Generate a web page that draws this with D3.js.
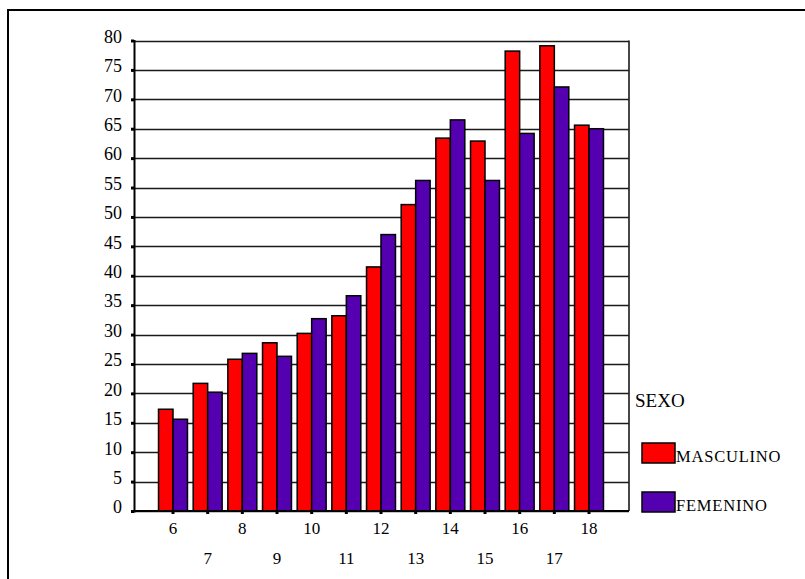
<!DOCTYPE html>
<html>
<head>
<meta charset="utf-8">
<script src="https://cdnjs.cloudflare.com/ajax/libs/d3/7.8.5/d3.min.js"></script>
<style>
  body { margin: 0; background: #fff; }
  svg text { font-family: "Liberation Serif", "DejaVu Serif", serif; fill: #000; }
</style>
</head>
<body>
<div class="graph"></div>
<script>
// edades (eje x) y medias por sexo
var edades = ["6","7","8","9","10","11","12","13","14","15","16","17","18"];
var masculino = [17.3, 21.7, 25.8, 28.6, 30.2, 33.2, 41.5, 52.1, 63.4, 62.9, 78.2, 79.1, 65.6];
var femenino  = [15.6, 20.2, 26.8, 26.3, 32.7, 36.6, 47.0, 56.2, 66.5, 56.2, 64.2, 72.1, 65.0];
var yTicks = [0, 5, 10, 15, 20, 25, 30, 35, 40, 45, 50, 55, 60, 65, 70, 75, 80];
var series = ["MASCULINO", "FEMENINO"];
var colores = ["#ff0000", "#5400b0"];

var w = 805, h = 579;
// area del grafico (no usar "top", choca con window.top)
var pLeft = 134, pRight = 629, pTop = 40.5, pBottom = 511;

var svg = d3.select("div.graph").append("svg")
  .attr("width", w).attr("height", h);

// marco exterior
svg.append("rect")
  .attr("x", 8).attr("y", 10)
  .attr("width", 900).attr("height", 900)
  .attr("fill", "none").attr("stroke", "#000").attr("stroke-width", 2);

var y = d3.scaleLinear().domain([0, 80]).range([pBottom, pTop]);
var step = (589 - 173) / 12;
var x = d3.scaleBand().domain(edades)
  .range([173 - step / 2, 589 + step / 2])
  .paddingInner(0.165).paddingOuter(0.0825);
var xs = d3.scaleBand().domain(series).range([0, x.bandwidth()]);

// lineas de cuadricula
svg.append("g").selectAll("line")
  .data(yTicks)
  .enter().append("line")
  .attr("x1", pLeft).attr("x2", pRight)
  .attr("y1", function(d) { return Math.round(y(d)) + 0.5; })
  .attr("y2", function(d) { return Math.round(y(d)) + 0.5; })
  .attr("stroke", "#1a1a1a").attr("stroke-width", 1.6);

// borde derecho
svg.append("line")
  .attr("x1", pRight).attr("x2", pRight)
  .attr("y1", y(80)).attr("y2", y(0))
  .attr("stroke", "#1a1a1a").attr("stroke-width", 1.6);

// barras
var groups = svg.append("g").selectAll("g")
  .data(edades)
  .enter().append("g")
  .attr("transform", function(d) { return "translate(" + x(d) + ",0)"; });

groups.selectAll("rect")
  .data(function(d, i) {
    return [{s: series[0], v: masculino[i], c: colores[0]},
            {s: series[1], v: femenino[i], c: colores[1]}];
  })
  .enter().append("rect")
  .attr("x", function(d) { return xs(d.s); })
  .attr("y", function(d) { return y(d.v); })
  .attr("width", xs.bandwidth())
  .attr("height", function(d) { return y(0) - y(d.v); })
  .attr("fill", function(d) { return d.c; })
  .attr("stroke", "#000").attr("stroke-width", 1.5);

// eje y
var yAxis = svg.append("g").attr("transform", "translate(" + pLeft + ",0)")
  .call(d3.axisLeft(y).tickValues(yTicks).tickSize(3).tickPadding(9));
yAxis.select(".domain").attr("stroke", "#000").attr("stroke-width", 2);
yAxis.selectAll(".tick line").attr("stroke", "#000").attr("stroke-width", 3);
yAxis.selectAll(".tick text")
  .style("font-size", "18px")
  .style("font-family", "Liberation Serif, serif")
  .attr("dy", "0.1em");

// eje x
var xAxis = svg.append("g").attr("transform", "translate(0," + pBottom + ")")
  .call(d3.axisBottom(x).tickSize(3).tickPadding(8));
xAxis.select(".domain").attr("stroke", "#000").attr("stroke-width", 2)
  .attr("d", "M" + pLeft + ",0H" + pRight);
xAxis.selectAll(".tick line").attr("stroke", "#000").attr("stroke-width", 3);
xAxis.selectAll(".tick text")
  .style("font-size", "17px")
  .style("font-family", "Liberation Serif, serif")
  .attr("y", function(d, i) { return i % 2 === 0 ? 11 : 41; });

// leyenda
svg.append("text").attr("x", 635).attr("y", 407)
  .style("font-size", "19px").text("SEXO");

var legend = svg.append("g").selectAll("g")
  .data(series)
  .enter().append("g")
  .attr("transform", function(d, i) { return "translate(642," + (443 + i * 49) + ")"; });
legend.append("rect")
  .attr("width", 33).attr("height", 20)
  .attr("fill", function(d, i) { return colores[i]; })
  .attr("stroke", "#000").attr("stroke-width", 1.5);
legend.append("text")
  .attr("x", 34).attr("y", 19)
  .style("font-size", "16.5px")
  .style("letter-spacing", "0.8px")
  .text(function(d) { return d; });
</script>
</body>
</html>
